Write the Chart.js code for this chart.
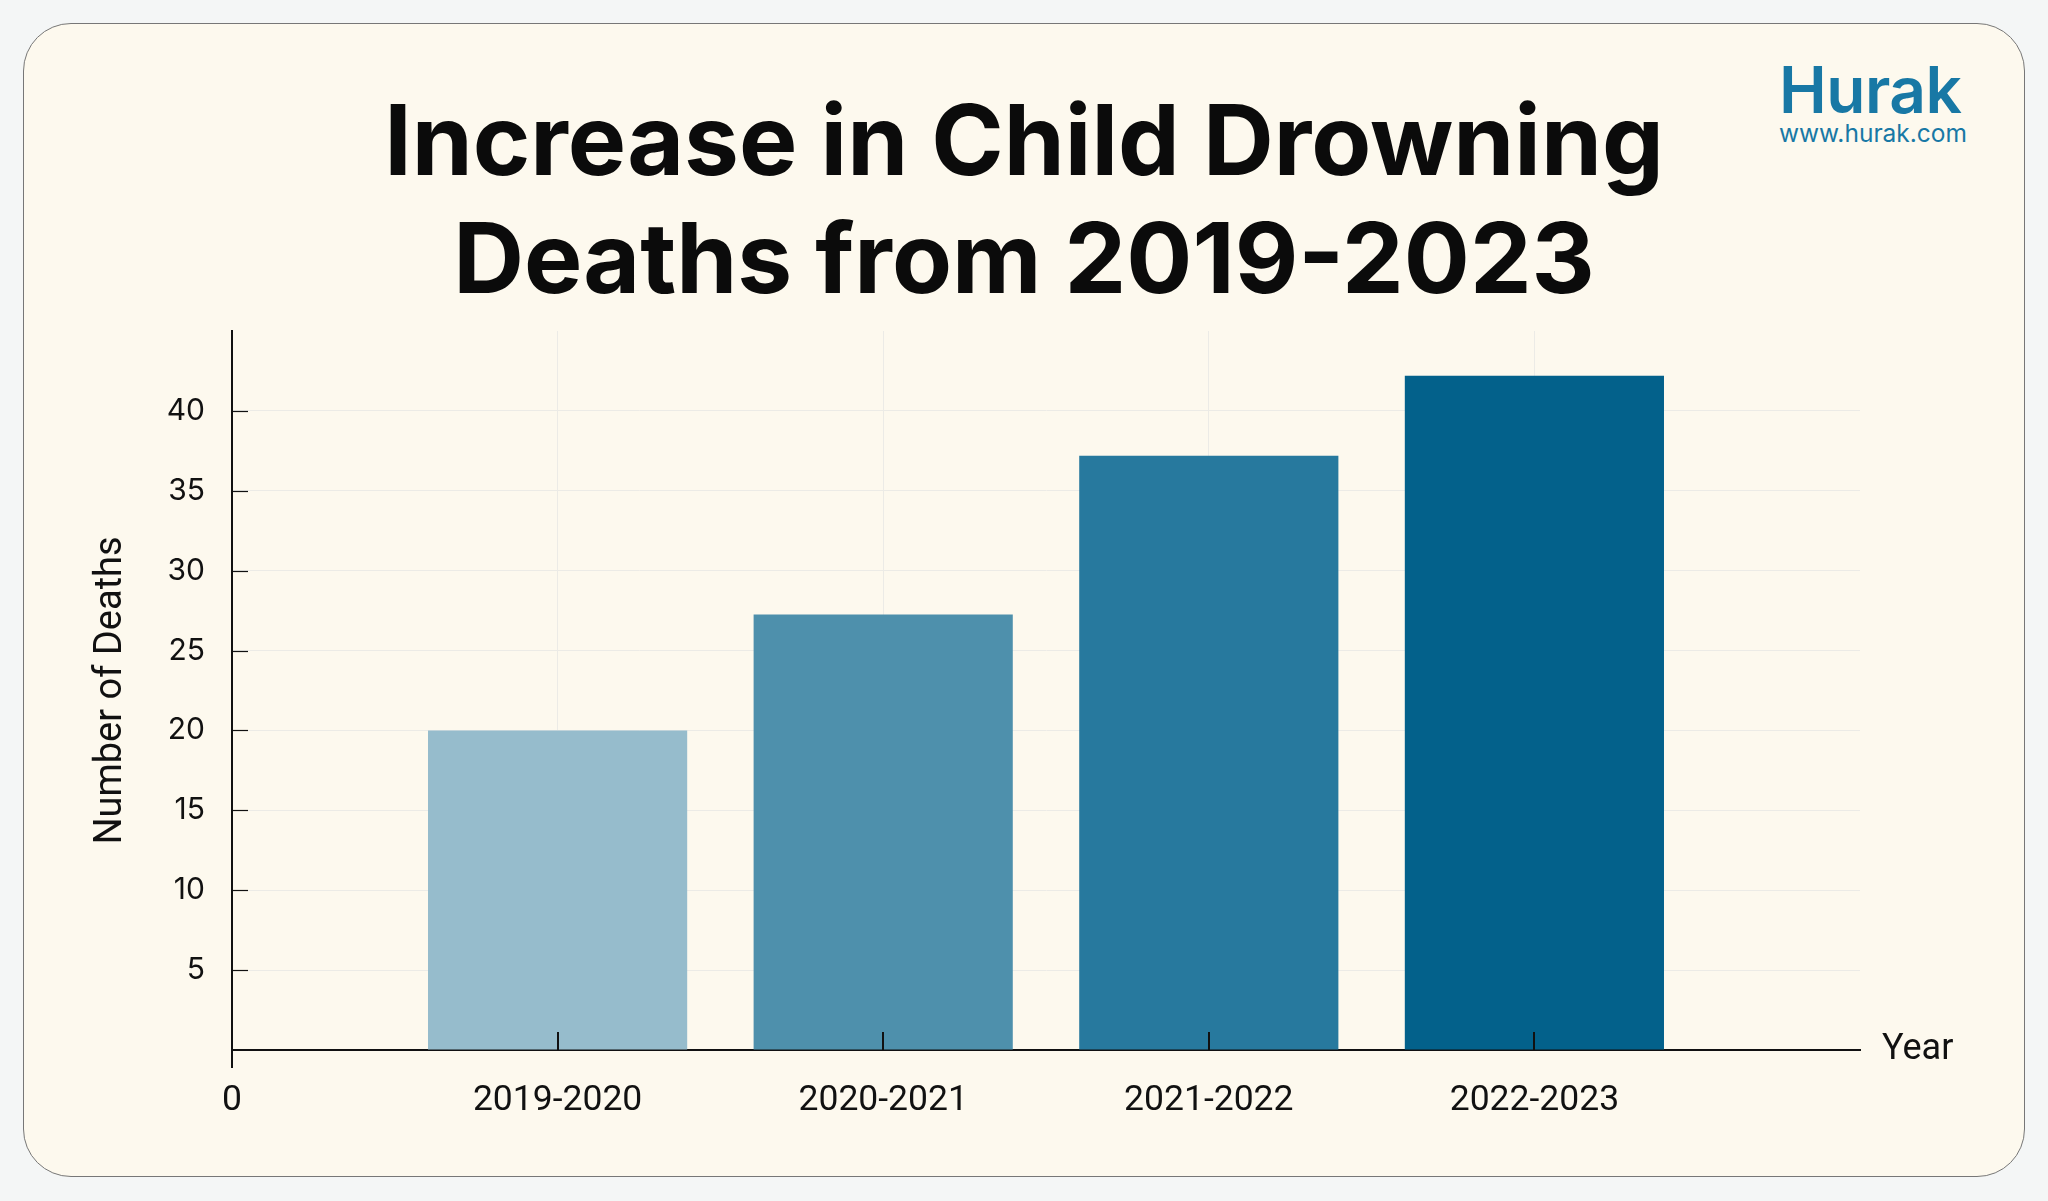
<!DOCTYPE html>
<html>
<head>
<meta charset="utf-8">
<script src="https://cdn.jsdelivr.net/npm/chart.js@4.4.1/dist/chart.umd.min.js"></script>
<style>
  html, body { margin: 0; padding: 0; background: #f4f6f6; }
  #wrap { position: relative; width: 2048px; height: 1201px; overflow: hidden; }
  #card { position: absolute; left: 23px; top: 23px; width: 2000px; height: 1152px;
          background: #fdf9ee; border: 1.5px solid #777; border-radius: 48px; }
  #title { position: absolute; left: 0; top: 81px; width: 2048px; text-align: center;
           font-family: Inter, sans-serif; font-weight: 700; font-size: 98px; line-height: 117.6px;
           color: #0b0b0b; margin: 0; }
  #logo { position: absolute; left: 1779px; top: 58px; color: #1878a5; font-family: Inter, sans-serif; }
  #logo .name { font-size: 64px; font-weight: 600; line-height: 64px; letter-spacing: -0.5px; }
  #logo .url { font-size: 24.5px; font-weight: 400; line-height: 30px; margin-top: -4px; }
  canvas { position: absolute; left: 0; top: 0; }
</style>
</head>
<body>
<div id="wrap">
  <div id="card"></div>
  <h1 id="title">Increase in Child Drowning<br>Deaths from 2019-2023</h1>
  <div id="logo"><div class="name">Hurak</div><div class="url">www.hurak.com</div></div>
  <canvas id="chart" width="2048" height="1201"></canvas>
</div>
<script>
const periods = ["2019-2020", "2020-2021", "2021-2022", "2022-2023"];
const deaths = [20, 27.25, 37.2, 42.2];
const barColors = ["#96bccc", "#4e90ac", "#27799e", "#03618b"];
const yTicks = [5, 10, 15, 20, 25, 30, 35, 40];

const GRID = "#ecebe6";

// short dark tick marks drawn inside the axes, plus the "Year" label at the end of the x axis
const axisMarks = {
  id: "axisMarks",
  afterDraw(chart) {
    const { ctx, scales: { x, y } } = chart;
    ctx.save();
    ctx.strokeStyle = "#111";
    ctx.lineWidth = 2;
    x.ticks.forEach((t) => {
      const px = Math.round(x.getPixelForValue(t.value));
      ctx.beginPath();
      if (t.value === 0) { ctx.moveTo(px, y.bottom); ctx.lineTo(px, y.bottom + 18); }
      else if (t.value <= periods.length) { ctx.moveTo(px, y.bottom); ctx.lineTo(px, y.bottom - 18); }
      ctx.stroke();
    });
    ctx.lineWidth = 1.2;
    yTicks.forEach((v) => {
      const py = Math.round(y.getPixelForValue(v)) + 0.5;
      ctx.beginPath(); ctx.moveTo(x.left, py); ctx.lineTo(x.left + 16, py); ctx.stroke();
    });
    ctx.fillStyle = "#111";
    ctx.font = "36px Roboto";
    ctx.textBaseline = "middle";
    ctx.fillText("Year", x.right + 22, y.bottom);
    ctx.restore();
  },
};

new Chart(document.getElementById("chart"), {
  type: "bar",
  data: {
    datasets: [{
      data: deaths.map((v, i) => ({ x: i + 1, y: v })),
      backgroundColor: barColors,
      borderWidth: 0,
      categoryPercentage: 0.8,
      barPercentage: 0.995,
    }],
  },
  options: {
    responsive: false,
    animation: false,
    layout: { padding: { left: 89, right: 188, top: 331, bottom: 0 } },
    plugins: {
      legend: { display: false },
      tooltip: { enabled: false },
    },
    scales: {
      x: {
        type: "linear",
        min: 0, max: 5,
        offset: false,
        z: 1,
        afterFit: (s) => { s.height = 151; },
        border: { display: true, color: "#111", width: 2 },
        grid: {
          offset: false,
          color: (c) => (c.tick && c.tick.value >= 1 && c.tick.value <= periods.length ? GRID : "transparent"),
          lineWidth: 1,
          drawTicks: false,
        },
        ticks: {
          stepSize: 1,
          padding: 30,
          color: "#111",
          font: { family: "Roboto", size: 35.5 },
          callback: (v) => (v === 0 ? "0" : periods[v - 1] || ""),
        },
      },
      y: {
        min: 0, max: 45,
        z: 1,
        afterFit: (s) => { s.width = 143; },
        border: { display: true, color: "#111", width: 2 },
        grid: {
          color: (c) => (c.tick && yTicks.includes(c.tick.value) ? GRID : "transparent"),
          lineWidth: 1,
          drawTicks: false,
        },
        ticks: {
          stepSize: 5,
          padding: 27,
          color: "#111",
          font: { family: "Inter", size: 30 },
          callback: (v) => (yTicks.includes(v) ? String(v) : ""),
        },
        title: {
          display: true,
          text: "Number of Deaths",
          color: "#111",
          font: { family: "Roboto", size: 38 },
          padding: { top: 0, bottom: 0 },
        },
      },
    },
  },
  plugins: [axisMarks],
});
</script>
</body>
</html>
